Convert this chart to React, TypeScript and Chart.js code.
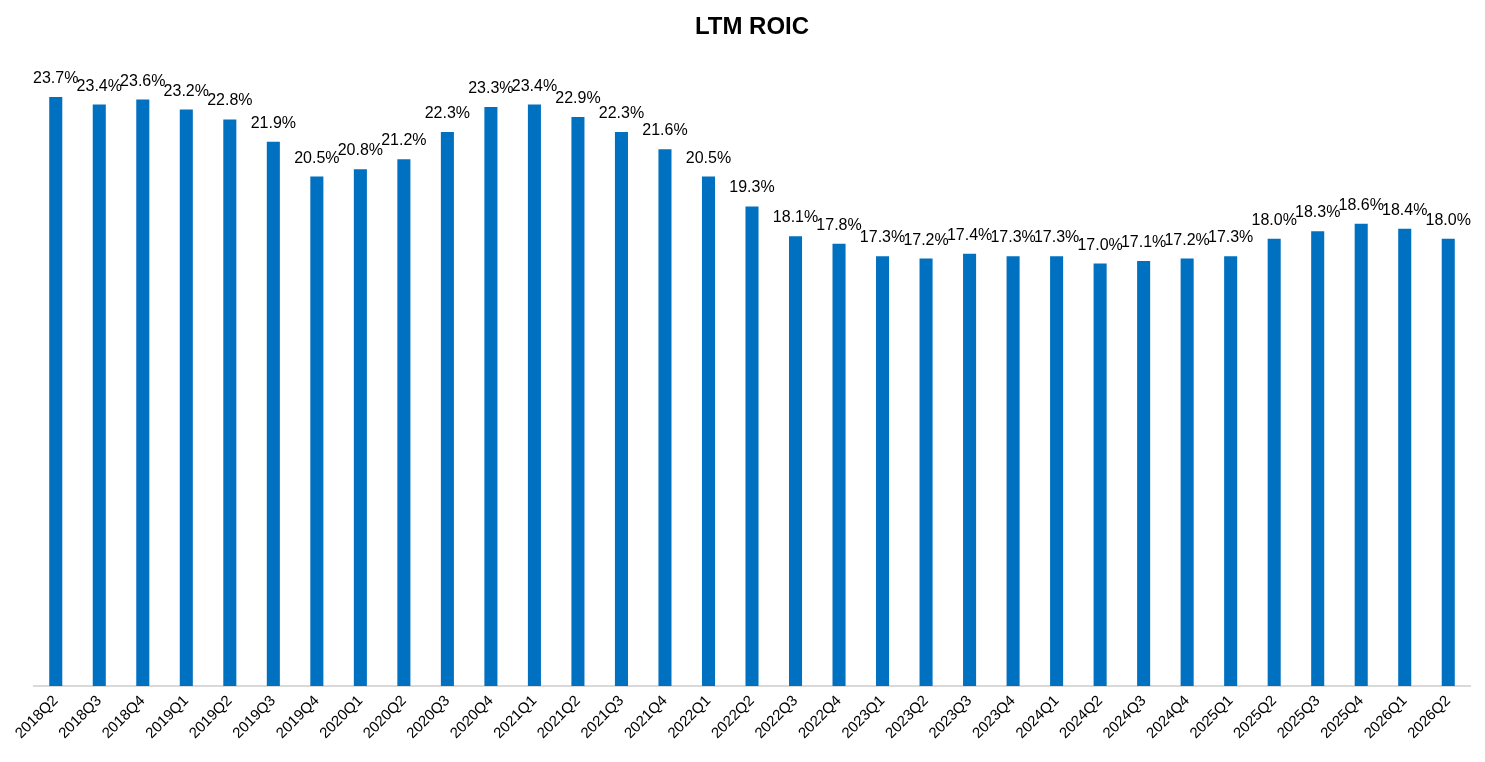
import React, { useEffect, useRef } from "react";
import { Chart, registerables } from "chart.js";

Chart.register(...registerables);

const categories = [
  "2018Q2", "2018Q3", "2018Q4", "2019Q1", "2019Q2", "2019Q3", "2019Q4",
  "2020Q1", "2020Q2", "2020Q3", "2020Q4", "2021Q1", "2021Q2", "2021Q3",
  "2021Q4", "2022Q1", "2022Q2", "2022Q3", "2022Q4", "2023Q1", "2023Q2",
  "2023Q3", "2023Q4", "2024Q1", "2024Q2", "2024Q3", "2024Q4", "2025Q1",
  "2025Q2", "2025Q3", "2025Q4", "2026Q1", "2026Q2",
];

const roicValues = [
  23.7, 23.4, 23.6, 23.2, 22.8, 21.9, 20.5, 20.8, 21.2, 22.3, 23.3, 23.4,
  22.9, 22.3, 21.6, 20.5, 19.3, 18.1, 17.8, 17.3, 17.2, 17.4, 17.3, 17.3,
  17.0, 17.1, 17.2, 17.3, 18.0, 18.3, 18.6, 18.4, 18.0,
];

const FONT = "'Liberation Sans', Arial, sans-serif";

const dataLabelPlugin = {
  id: "dataLabels",
  afterDatasetsDraw(chart: any) {
    const ctx = chart.ctx;
    const meta = chart.getDatasetMeta(0);
    ctx.save();
    ctx.font = `16px ${FONT}`;
    ctx.fillStyle = "#000000";
    ctx.textAlign = "center";
    ctx.textBaseline = "alphabetic";
    meta.data.forEach((bar: any, i: number) => {
      const v = chart.data.datasets[0].data[i];
      ctx.fillText(`${v.toFixed(1)}%`, bar.x, bar.y - 14);
    });
    ctx.restore();
  },
};

export default function App() {
  const ref = useRef<HTMLCanvasElement>(null);
  useEffect(() => {
    if (!ref.current) return;
    const chart = new Chart(ref.current, {
      type: "bar",
      data: {
        labels: categories,
        datasets: [
          {
            label: "LTM ROIC",
            data: roicValues,
            backgroundColor: "#0070C0",
            borderWidth: 0,
            categoryPercentage: 1,
            barPercentage: 0.3,
          },
        ],
      },
      options: {
        responsive: false,
        animation: false,
        layout: { padding: { left: 34, right: 15, top: 0, bottom: 0 } },
        plugins: {
          legend: { display: false },
          tooltip: { enabled: false },
          title: {
            display: true,
            text: "LTM ROIC",
            color: "#000000",
            font: { family: FONT, size: 24, weight: "bold" },
            padding: { top: 13, bottom: 23 },
          },
        },
        scales: {
          x: {
            grid: { display: false, drawTicks: false },
            border: { display: true, color: "#D9D9D9", width: 2 },
            ticks: {
              color: "#000000",
              font: { family: FONT, size: 15 },
              minRotation: 45,
              maxRotation: 45,
              autoSkip: false,
              padding: 6,
            },
            afterFit: (scale: any) => {
              scale.height = 76;
            },
          },
          y: {
            display: false,
            min: 0,
            max: 25,
          },
        },
      },
      plugins: [dataLabelPlugin],
    });
    return () => chart.destroy();
  }, []);
  return (
    <div style={{ position: "fixed", left: 0, top: 0, width: 1485, height: 762, background: "#fff" }}>
      <canvas ref={ref} width={1485} height={762} />
    </div>
  );
}
